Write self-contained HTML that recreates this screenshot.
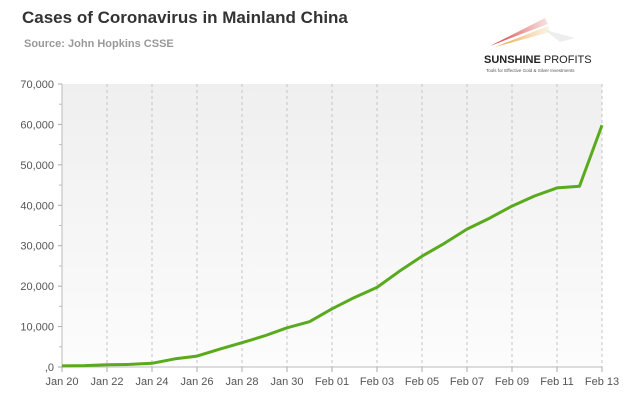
<!DOCTYPE html>
<html><head><meta charset="utf-8"><style>
body{margin:0;background:#fff;width:628px;height:402px;overflow:hidden;font-family:"Liberation Sans",sans-serif}
</style></head><body>
<svg width="628" height="402">
<defs><linearGradient id="bg" x1="0" y1="0" x2="0" y2="1"><stop offset="0" stop-color="#efefef"/><stop offset="1" stop-color="#fcfcfc"/></linearGradient>
<linearGradient id="lr" x1="0" y1="0" x2="1" y2="0"><stop offset="0" stop-color="#d42a2a"/><stop offset="1" stop-color="#e07070" stop-opacity="0.2"/></linearGradient>
<linearGradient id="lo" x1="0" y1="0" x2="1" y2="0"><stop offset="0" stop-color="#e89b2a"/><stop offset="1" stop-color="#f2c48a" stop-opacity="0.2"/></linearGradient></defs>
<text x="22" y="23" font-size="17" font-weight="bold" fill="#333">Cases of Coronavirus in Mainland China</text>
<text x="24" y="47" font-size="11" font-weight="bold" fill="#999">Source: John Hopkins CSSE</text>
<g>
<polygon points="490,46 545,18 548,24" fill="url(#lr)"/>
<polygon points="495,47 548,26 550,32" fill="url(#lo)"/>
<polygon points="545,30 575,38 560,42" fill="#ddd" opacity="0.5"/>
<text x="484" y="63" font-size="11" font-weight="bold" fill="#222">SUNSHINE <tspan font-weight="normal">PROFITS</tspan></text>
<text x="486" y="72" font-size="4.5" fill="#555">Tools for Effective Gold &amp; Silver Investments</text>
</g>
<g id="plot"></g>
</svg>
<script>
const categories=["Jan 20","Jan 21","Jan 22","Jan 23","Jan 24","Jan 25","Jan 26","Jan 27","Jan 28","Jan 29","Jan 30","Jan 31","Feb 01","Feb 02","Feb 03","Feb 04","Feb 05","Feb 06","Feb 07","Feb 08","Feb 09","Feb 10","Feb 11","Feb 12","Feb 13"];
const cases=[278,326,547,639,916,2000,2700,4400,6000,7700,9700,11200,14400,17200,19700,23700,27400,30600,34100,36800,39800,42300,44300,44700,59800];
const yTicks=[0,10000,20000,30000,40000,50000,60000,70000];
const yTickLabels=[",0","10,000","20,000","30,000","40,000","50,000","60,000","70,000"];
const NS="http://www.w3.org/2000/svg";
const g=document.getElementById('plot');
const x0=62,x1=602,yb=367,yt=84,ymax=70000;
const xs=i=>x0+(x1-x0)*i/(categories.length-1);
const ys=v=>yb-(yb-yt)*v/ymax;
function mk(t,a){const e=document.createElementNS(NS,t);for(const k in a)e.setAttribute(k,a[k]);g.appendChild(e);return e;}
let r=mk('rect',{x:x0,y:yt,width:x1-x0,height:yb-yt,fill:'url(#bg)'});


categories.forEach((c,i)=>{
 if(i%2)return;
 const x=xs(i);
 if(i>0){let l=mk('line',{x1:x,x2:x,y1:yt,y2:yb,stroke:'#c4c4c4','stroke-width':'1','stroke-dasharray':'3,3'});
 
 }
 mk('line',{x1:x,x2:x,y1:yb,y2:yb+5,stroke:'#aaa'});
 let t=mk('text',{x:x,y:yb+18,'text-anchor':'middle','font-size':'11',fill:'#555'});
 t.textContent=c;
 
 
});
yTicks.forEach((v,i)=>{
 const y=ys(v);
 mk('line',{x1:x0-4,x2:x0,y1:y,y2:y,stroke:'#aaa'});
 if(i<yTicks.length-1)mk('line',{x1:x0-3,x2:x0,y1:ys(v+5000),y2:ys(v+5000),stroke:'#bbb'});
 let t=mk('text',{x:x0-8,y:y+4,'text-anchor':'end','font-size':'11',fill:'#555'});
 t.textContent=yTickLabels[i];
 
 
});
let ax=mk('line',{x1:x0,x2:x0,y1:yt,y2:yb,stroke:'#bbb'});


let bx=mk('line',{x1:x0,x2:x1,y1:yb,y2:yb,stroke:'#bbb'});


let p=mk('polyline',{points:cases.map((v,i)=>xs(i)+','+ys(v)).join(' '),fill:'none',stroke:'#5aaa1e','stroke-width':'3','stroke-linejoin':'round'});


</script>
</body></html>
